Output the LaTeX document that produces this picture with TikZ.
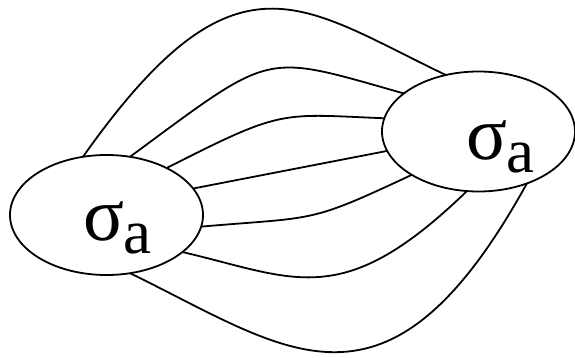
\documentclass[tikz,border=0pt]{standalone}
\usepackage{fontspec}
\setmainfont{Liberation Serif}
\usetikzlibrary{shapes.geometric}
\tikzset{
  blob/.style={ellipse, draw, line width=1.8pt, minimum width=193pt, minimum height=120pt, inner sep=0pt, outer sep=0pt},
  lbl/.style={anchor=base west, inner sep=0pt, font=\fontsize{76}{76}\selectfont},
  wire/.style={line width=1.8pt}
}
\newcommand{\sigmaa}{σ\kern-1pt\raisebox{-13pt}{\fontsize{63}{63}\selectfont a}}
\begin{document}
\begin{tikzpicture}[x=1pt,y=-1pt]
\useasboundingbox (0,0) rectangle (575,358);
\node[blob] (L) at (106.5,215) {};
\node[blob] (R) at (478.5,131.5) {};
\node[lbl] (Lt) at (83,240) {\sigmaa};
\node[lbl] (Rt) at (466,160) {\sigmaa};
\draw[wire] (L.112.9) .. controls (236,-60) and (301,6) .. (R.120.4);
\draw[wire] (L.68.3) .. controls (275,50) and (261,53) .. (R.153.6);
\draw[wire] (L.38.4) .. controls (284,108.5) and (279,114) .. (R.172);
\draw[wire] (L.17.5) -- (R.192.7);
\draw[wire] (L.-7.2) .. controls (317,216.6) and (307,224) .. (R.213.6);
\draw[wire] (L.-26.7) .. controls (296,278.6) and (342,312) .. (R.259.2);
\draw[wire] (L.-68) .. controls (288,350) and (387,437) .. (R.313.8);
\end{tikzpicture}
\end{document}
